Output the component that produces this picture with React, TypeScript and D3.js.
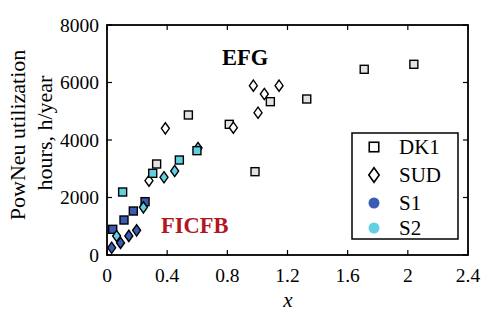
import React from 'react';
import * as d3 from 'd3';

const xTicks = [0, 0.4, 0.8, 1.2, 1.6, 2, 2.4];
const yTicks = [0, 2000, 4000, 6000, 8000];

const dk1Points: [number, number][] = [
  [0.33, 3165], [0.541, 4870], [0.813, 4545], [0.984, 2898],
  [1.086, 5333], [1.328, 5426], [1.71, 6459], [2.04, 6633],
];
const sudPoints: [number, number][] = [
  [0.279, 2585], [0.388, 4406], [0.84, 4430], [0.973, 5890],
  [1.004, 4950], [1.046, 5600], [1.144, 5890],
];
const s1Squares: [number, number][] = [
  [0.038, 893], [0.113, 1217], [0.175, 1530], [0.253, 1855],
];
const s1Diamonds: [number, number][] = [
  [0.031, 250], [0.09, 420], [0.145, 665], [0.197, 858],
];
const s2Squares: [number, number][] = [
  [0.104, 2191], [0.304, 2841], [0.481, 3304], [0.598, 3629],
];
const s2Diamonds: [number, number][] = [
  [0.064, 661], [0.242, 1658], [0.379, 2702], [0.45, 2922], [0.605, 3720],
];
const legendItems = ['DK1', 'SUD', 'S1', 'S2'];

const FONT = '"Liberation Serif", "Times New Roman", serif';
const S1_COLOR = '#3c5bb4';
const S2_COLOR = '#62cfe2';
const DK1_FILL = '#e2e2e2';

const W = 496, H = 315;
const L = 107, R = 468, T = 25, B = 255;

export default function App() {
  const x = d3.scaleLinear().domain([0, 2.4]).range([L, R]);
  const y = d3.scaleLinear().domain([0, 8000]).range([B, T]);
  const sq = 8;
  const dw = 4, dh = 5.6;
  const mStroke = 1.4;
  const diamond = (cx: number, cy: number, w = dw, h = dh) =>
    `M${cx},${cy - h}L${cx + w},${cy}L${cx},${cy + h}L${cx - w},${cy}Z`;

  const squares = (pts: [number, number][], fill: string, key: string) =>
    pts.map((p, i) => (
      <rect key={key + i} x={x(p[0]) - sq / 2} y={y(p[1]) - sq / 2} width={sq} height={sq}
        fill={fill} stroke="#000" strokeWidth={mStroke} />
    ));
  const diamonds = (pts: [number, number][], fill: string, key: string) =>
    pts.map((p, i) => (
      <path key={key + i} d={diamond(x(p[0]), y(p[1]))} fill={fill} stroke="#000" strokeWidth={mStroke} />
    ));

  const tl = 5;
  const legendX = 352, legendY = 133, legendW = 106, legendH = 106;
  const rowY = [147, 175, 203, 228];

  return (
    <svg width={W} height={H} style={{ position: 'absolute', left: 0, top: 0, background: '#fff' }}
      fontFamily={FONT}>
      {/* ticks */}
      {xTicks.map((t, i) => (
        <g key={'xt' + i}>
          <line x1={x(t)} x2={x(t)} y1={B} y2={B - tl} stroke="#000" strokeWidth={1.2} />
          <line x1={x(t)} x2={x(t)} y1={T} y2={T + tl} stroke="#000" strokeWidth={1.2} />
          <text x={x(t)} y={281.5} fontSize={19.5} textAnchor="middle">{String(t)}</text>
        </g>
      ))}
      {yTicks.map((t, i) => (
        <g key={'yt' + i}>
          <line x1={L} x2={L + tl} y1={y(t)} y2={y(t)} stroke="#000" strokeWidth={1.2} />
          <line x1={R} x2={R - tl} y1={y(t)} y2={y(t)} stroke="#000" strokeWidth={1.2} />
          <text x={99} y={y(t)} fontSize={19.5} textAnchor="end" dominantBaseline="central">{String(t)}</text>
        </g>
      ))}

      {/* data */}
      {squares(dk1Points, DK1_FILL, 'dk')}
      {diamonds(sudPoints, '#fff', 'sud')}
      {squares(s1Squares, S1_COLOR, 's1s')}
      {diamonds(s2Diamonds, S2_COLOR, 's2d')}
      {diamonds(s1Diamonds, S1_COLOR, 's1d')}
      {squares(s2Squares, S2_COLOR, 's2s')}

      <rect x={L} y={T} width={R - L} height={B - T} fill="none" stroke="#000" strokeWidth={1.8} />

      {/* annotations */}
      <text x={222} y={65} fontSize={22.5} fontWeight="bold">EFG</text>
      <text x={161} y={233} fontSize={22.5} fontWeight="bold" fill="#b3161f">FICFB</text>

      {/* legend */}
      <rect x={legendX} y={legendY} width={legendW} height={legendH} fill="#fff" stroke="#000" strokeWidth={1.5} />
      <rect x={374 - 4.75} y={rowY[0] - 4.75} width={9.5} height={9.5} fill="#fff" stroke="#000" strokeWidth={1.6} />
      <path d={diamond(374, rowY[1], 5.2, 7.3)} fill="#fff" stroke="#000" strokeWidth={1.6} />
      <circle cx={374} cy={rowY[2]} r={5.5} fill={S1_COLOR} />
      <circle cx={374} cy={rowY[3]} r={5.5} fill={S2_COLOR} />
      {legendItems.map((s, i) => (
        <text key={'lg' + i} x={399} y={rowY[i]} fontSize={21} dominantBaseline="central">{s}</text>
      ))}

      {/* axis labels */}
      <text x={288} y={307} fontSize={21} fontStyle="italic" textAnchor="middle">x</text>
      <text transform="translate(25,135) rotate(-90)" fontSize={22} textAnchor="middle">PowNeu utilization</text>
      <text transform="translate(52,133) rotate(-90)" fontSize={22} textAnchor="middle">hours, h/year</text>
    </svg>
  );
}
